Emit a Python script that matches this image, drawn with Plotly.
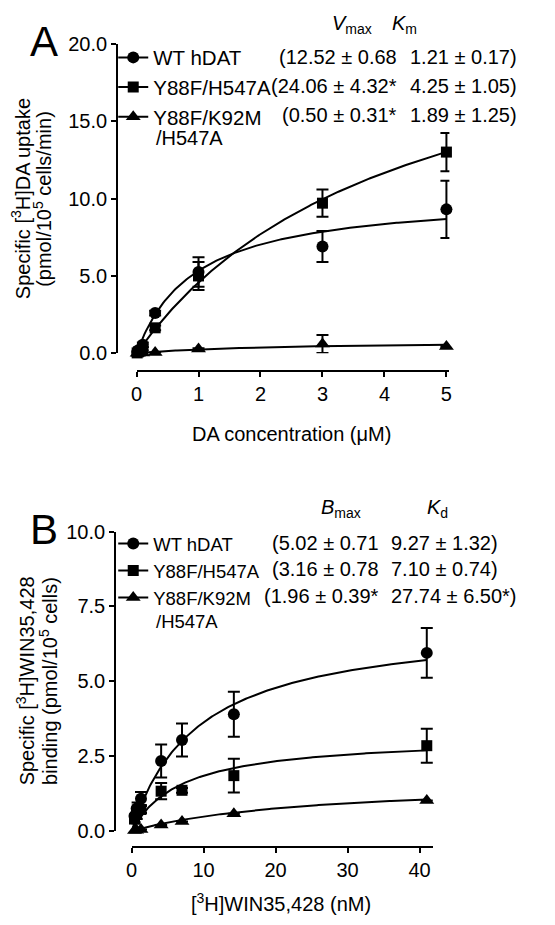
import numpy as np
import plotly.graph_objects as go

W, H = 555, 925
FONT = "Liberation Sans, Arial, sans-serif"

# ---------------- Panel A: [3H]DA uptake ----------------
a_conc = [0.01, 0.03, 0.1, 0.3, 1, 3, 5]
a_wt = [0.08, 0.2, 0.55, 2.6, 5.25, 6.9, 9.3]
a_wt_err = [0.05, 0.08, 0.15, 0.15, 0.95, 1.0, 1.85]
a_hd = [0.03, 0.1, 0.3, 1.65, 5.0, 9.7, 13.0]
a_hd_err = [0.04, 0.05, 0.1, 0.15, 0.9, 0.88, 1.24]
a_km = [0.0, 0.01, 0.03, 0.05, 0.28, 0.6, 0.45]
a_km_err = [0.0, 0.0, 0.0, 0.0, 0.05, 0.58, 0.05]
# fitted Michaelis-Menten curves (as drawn)
a_fit_vmax = [10.3, 24.06, 0.8]
a_fit_km = [0.93, 4.25, 2.2]
a_yticks = [0, 5, 10, 15, 20]
a_yticktext = ["0.0", "5.0", "10.0", "15.0", "20.0"]
a_xticks = [0, 1, 2, 3, 4, 5]

# ---------------- Panel B: [3H]WIN35,428 binding ----------------
b_conc = [0.4, 0.7, 1.3, 4.1, 7.0, 14.2, 41.0]
b_wt = [0.5, 0.75, 1.08, 2.34, 3.04, 3.9, 5.95]
b_wt_err = [0.2, 0.2, 0.22, 0.55, 0.55, 0.75, 0.83]
b_hd = [0.4, 0.55, 0.72, 1.33, 1.36, 1.85, 2.85]
b_hd_err = [0.15, 0.15, 0.12, 0.27, 0.08, 0.56, 0.57]
b_km = [0.02, 0.03, 0.05, 0.2, 0.32, 0.58, 1.02]
b_km_err = [0.0, 0.0, 0.0, 0.0, 0.0, 0.0, 0.0]
b_fit_bmax = [7.0, 3.16, 1.7]
b_fit_kd = [9.27, 7.10, 25.0]
b_yticks = [0, 2.5, 5, 7.5, 10]
b_yticktext = ["0.0", "2.5", "5.0", "7.5", "10.0"]
b_xticks = [0, 10, 20, 30, 40]

series_names = ["WT hDAT", "Y88F/H547A", "Y88F/K92M"]
series_symbols = ["circle", "square", "triangle-up"]
a_col1 = ["(12.52 ± 0.68", "(24.06 ± 4.32*", "(0.50 ± 0.31*"]
a_col2 = ["1.21 ± 0.17)", "4.25 ± 1.05)", "1.89 ± 1.25)"]
b_col1 = ["(5.02 ± 0.71", "(3.16 ± 0.78", "(1.96 ± 0.39*"]
b_col2 = ["9.27 ± 1.32)", "7.10 ± 0.74)", "27.74 ± 6.50*)"]


def px_x(x):
    return x / W


def px_y(y):
    return 1 - y / H


fig = go.Figure()

a_sets = [(a_wt, a_wt_err), (a_hd, a_hd_err), (a_km, a_km_err)]
b_sets = [(b_wt, b_wt_err), (b_hd, b_hd_err), (b_km, b_km_err)]
msize = [12, 11, 13]

for i in range(3):
    # panel A fit curve
    xs = np.linspace(0, max(a_conc), 200)
    fig.add_trace(go.Scatter(x=xs, y=a_fit_vmax[i] * xs / (a_fit_km[i] + xs),
                             mode="lines", line=dict(color="black", width=2),
                             xaxis="x", yaxis="y", showlegend=False, hoverinfo="skip"))
    ys, es = a_sets[i]
    fig.add_trace(go.Scatter(x=a_conc, y=ys, mode="markers",
                             marker=dict(symbol=series_symbols[i], size=msize[i], color="black"),
                             error_y=dict(type="data", array=es, color="black", thickness=2, width=6),
                             xaxis="x", yaxis="y", showlegend=False, cliponaxis=False))
    fig.add_trace(go.Scatter(x=[None], y=[None], mode="lines+markers", name=series_names[i],
                             marker=dict(symbol=series_symbols[i], size=msize[i], color="black"),
                             line=dict(color="black", width=2),
                             xaxis="x", yaxis="y", legend="legend"))
    # panel B
    xs = np.linspace(0, max(b_conc), 200)
    fig.add_trace(go.Scatter(x=xs, y=b_fit_bmax[i] * xs / (b_fit_kd[i] + xs),
                             mode="lines", line=dict(color="black", width=2),
                             xaxis="x2", yaxis="y2", showlegend=False, hoverinfo="skip"))
    ys, es = b_sets[i]
    fig.add_trace(go.Scatter(x=b_conc, y=ys, mode="markers",
                             marker=dict(symbol=series_symbols[i], size=msize[i], color="black"),
                             error_y=dict(type="data", array=es, color="black", thickness=2, width=6),
                             xaxis="x2", yaxis="y2", showlegend=False, cliponaxis=False))
    fig.add_trace(go.Scatter(x=[None], y=[None], mode="lines+markers", name=series_names[i],
                             marker=dict(symbol=series_symbols[i], size=msize[i], color="black"),
                             line=dict(color="black", width=2),
                             xaxis="x2", yaxis="y2", legend="legend2"))

axis_common = dict(showline=True, linecolor="black", linewidth=2, ticks="outside",
                   ticklen=5, tickwidth=2, tickcolor="black", showgrid=False,
                   zeroline=False, tickfont=dict(family=FONT, size=20, color="black"))

fig.update_layout(
    width=W, height=H, margin=dict(l=0, r=0, t=0, b=0),
    paper_bgcolor="white", plot_bgcolor="white",
    font=dict(family=FONT, color="black", size=20),
    xaxis=dict(domain=[px_x(132.7), px_x(450.7)], range=[0, 5.048], anchor="free",
               position=px_y(369), tickvals=a_xticks, **axis_common),
    yaxis=dict(domain=[px_y(350.7), px_y(33.5)], range=[0, 20], anchor="free",
               position=px_x(113), tickvals=a_yticks, ticktext=a_yticktext, **axis_common),
    xaxis2=dict(domain=[px_x(127.7), px_x(434.3)], range=[0, 41.9], anchor="free",
                position=px_y(856.7), tickvals=b_xticks, **axis_common),
    yaxis2=dict(domain=[px_y(840), px_y(533.3)], range=[0, 10], anchor="free",
                position=px_x(111), tickvals=b_yticks, ticktext=b_yticktext, **axis_common),
    legend=dict(x=px_x(109), y=px_y(27.2), xanchor="left", yanchor="top",
                font=dict(family=FONT, size=20.5, color="black"), bgcolor="rgba(0,0,0,0)",
                borderwidth=0, tracegroupgap=0),
    legend2=dict(x=px_x(109), y=px_y(526.5), xanchor="left", yanchor="top",
                 font=dict(family=FONT, size=18.5, color="black"), bgcolor="rgba(0,0,0,0)",
                 borderwidth=0, tracegroupgap=0),
)

ann = []


def add_text(x, y, text, size=20, xanchor="left", angle=0):
    ann.append(dict(x=px_x(x), y=px_y(y), xref="paper", yref="paper", text=text,
                    showarrow=False, xanchor=xanchor, yanchor="middle", textangle=angle,
                    font=dict(family=FONT, size=size, color="black")))


# panel letters
add_text(39, 31, "A", size=42, xanchor="center")
add_text(39, 531, "B", size=42, xanchor="center")

# panel A table
add_text(352, 14, "<i>V</i><sub>max</sub>", xanchor="center")
add_text(405, 14, "<i>K</i><sub>m</sub>", xanchor="center")
a_rows = [47, 77, 107]
for i in range(3):
    add_text(399, a_rows[i], a_col1[i], xanchor="right")
    add_text(409, a_rows[i], a_col2[i])
add_text(150, 130, "/H547A", size=20)

# panel B table
add_text(341, 510, "<i>B</i><sub>max</sub>", xanchor="center")
add_text(439, 510, "<i>K</i><sub>d</sub>", xanchor="center")
b_rows = [545, 572, 599]
for i in range(3):
    add_text(381, b_rows[i], b_col1[i], xanchor="right")
    add_text(389, b_rows[i], b_col2[i])
add_text(150, 625, "/H547A", size=18.5)

# axis titles
add_text(290, 433, "DA concentration (μM)", xanchor="center")
add_text(15, 192, "Specific [<sup>3</sup>H]DA uptake", xanchor="center", angle=-90)
add_text(37, 192, "(pmol/10<sup>5</sup> cells/min)", xanchor="center", angle=-90)
add_text(280, 913, "[<sup>3</sup>H]WIN35,428 (nM)", xanchor="center")
add_text(20, 686, "Specific [<sup>3</sup>H]WIN35,428", xanchor="center", angle=-90)
add_text(43, 686, "binding (pmol/10<sup>5</sup> cells)", xanchor="center", angle=-90)

fig.update_layout(annotations=ann)
fig.write_html("out.html", config={"displayModeBar": False},
               post_script="document.body.style.margin='0';")
